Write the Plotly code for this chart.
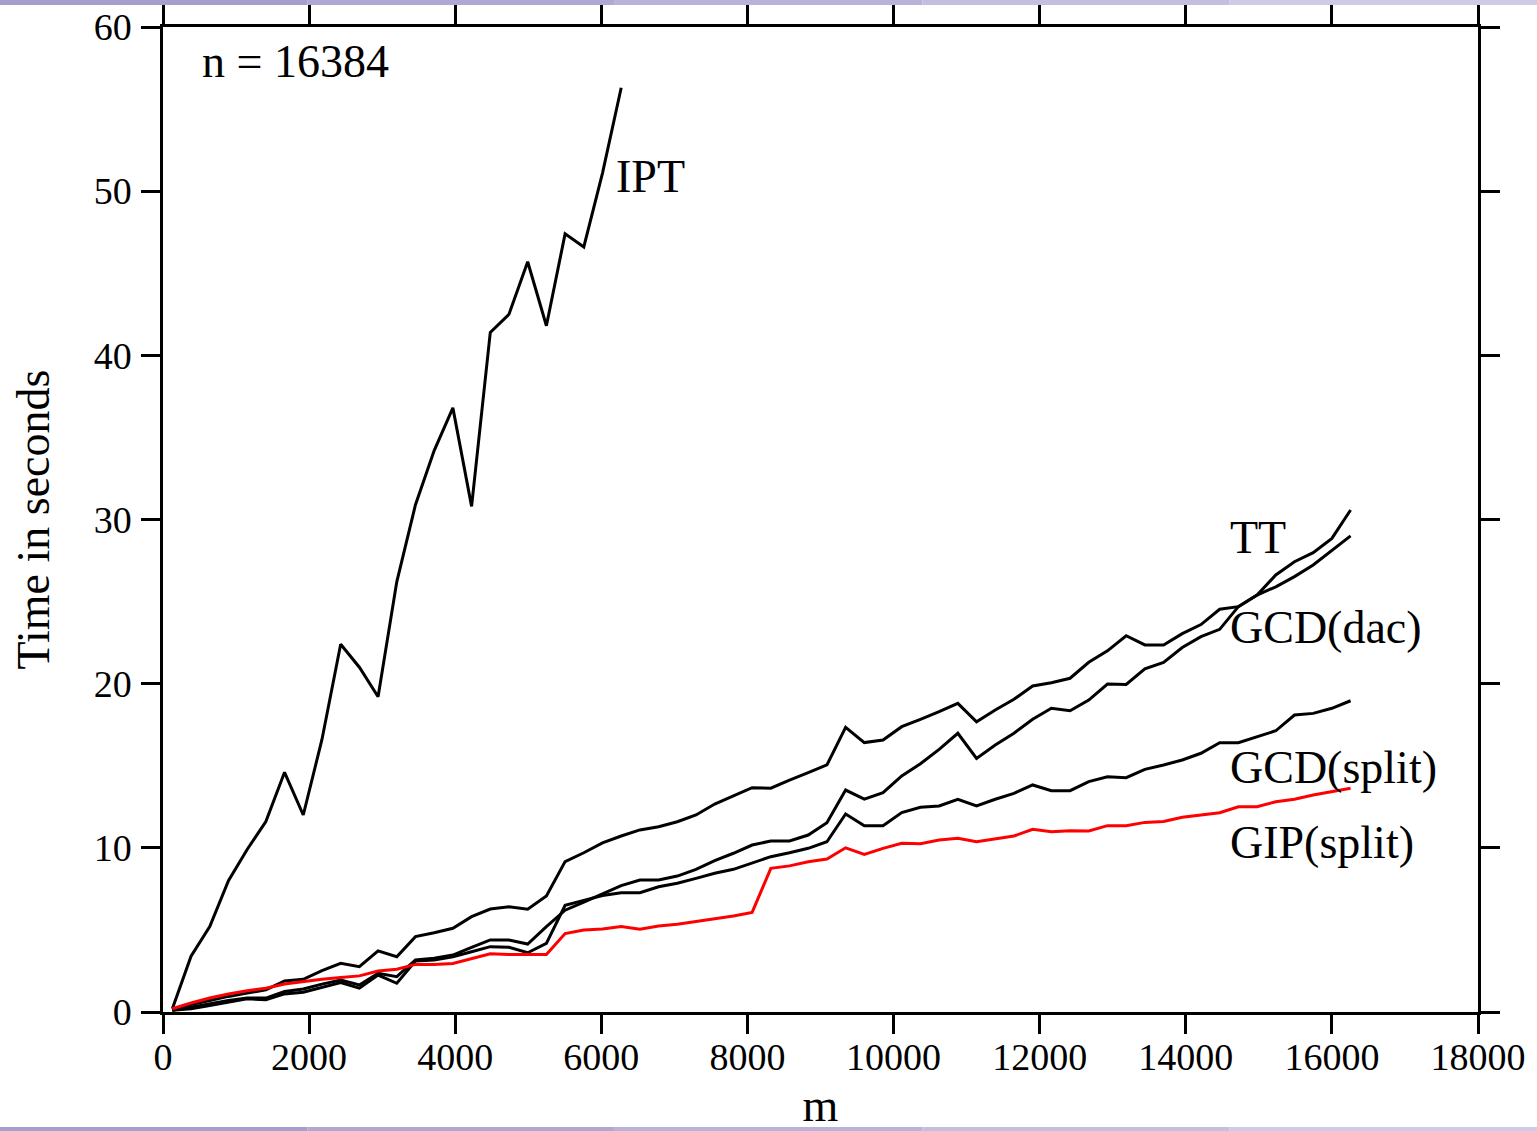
import plotly.graph_objects as go

# ---- data ----
m_all = [128 + 256 * k for k in range(64)]
m_ipt = m_all[:25]

ipt = [0.2, 3.4, 5.2, 8.0, 9.9, 11.6, 14.6, 12.0, 16.6, 22.4, 21.0, 19.2, 26.2,
       30.9, 34.2, 36.8, 30.8, 41.4, 42.5, 45.7, 41.8, 47.4, 46.6, 51.1, 56.3]

tt = [0.1, 0.45, 0.7, 0.95, 1.15, 1.35, 1.89, 1.99, 2.52, 2.97, 2.76, 3.72, 3.37,
      4.59, 4.83, 5.10, 5.81, 6.27, 6.41, 6.26, 7.07, 9.16, 9.7, 10.3, 10.72,
      11.09, 11.29, 11.59, 12.0, 12.67, 13.16, 13.66, 13.63, 14.13, 14.58, 15.05,
      17.34, 16.41, 16.57, 17.38, 17.83, 18.29, 18.8, 17.68, 18.4, 19.05, 19.86,
      20.06, 20.33, 21.3, 22.0, 22.92, 22.36, 22.36, 23.05, 23.6, 24.53, 24.69,
      25.4, 26.62, 27.43, 27.98, 28.85, 30.58]

gcd_dac = [0.1, 0.3, 0.5, 0.7, 0.85, 0.85, 1.25, 1.4, 1.7, 1.95, 1.65, 2.36, 2.15,
           3.17, 3.27, 3.47, 3.94, 4.39, 4.39, 4.14, 5.2, 6.2, 6.7, 7.2, 7.7,
           8.04, 8.04, 8.28, 8.69, 9.22, 9.67, 10.17, 10.42, 10.42, 10.78, 11.53,
           13.52, 12.97, 13.36, 14.38, 15.12, 16.0, 16.98, 15.45, 16.26, 16.98,
           17.83, 18.5, 18.35, 19.0, 19.98, 19.95, 20.9, 21.3, 22.2, 22.86, 23.31,
           24.69, 25.4, 25.9, 26.52, 27.23, 28.14, 29.0]

gcd_split = [0.1, 0.2, 0.4, 0.6, 0.8, 0.75, 1.1, 1.2, 1.5, 1.8, 1.45, 2.25, 1.75,
             3.1, 3.17, 3.37, 3.67, 3.98, 3.94, 3.61, 4.18, 6.5, 6.8, 7.1, 7.27,
             7.27, 7.63, 7.84, 8.14, 8.45, 8.69, 9.06, 9.46, 9.7, 9.97, 10.37,
             12.06, 11.35, 11.35, 12.15, 12.47, 12.55, 12.96, 12.55, 12.96, 13.32,
             13.83, 13.48, 13.48, 14.03, 14.33, 14.27, 14.78, 15.05, 15.35, 15.76,
             16.4, 16.4, 16.77, 17.13, 18.09, 18.19, 18.5, 18.96]

gip_split = [0.2, 0.55, 0.85, 1.1, 1.3, 1.45, 1.7, 1.85, 2.0, 2.1, 2.2, 2.5, 2.6,
             2.9, 2.9, 2.95, 3.25, 3.55, 3.5, 3.5, 3.5, 4.78, 5.0, 5.05, 5.2,
             5.04, 5.24, 5.34, 5.5, 5.68, 5.85, 6.07, 8.75, 8.9, 9.15, 9.32, 10.0,
             9.6, 9.97, 10.28, 10.25, 10.48, 10.58, 10.37, 10.54, 10.72, 11.13,
             10.98, 11.04, 11.03, 11.35, 11.35, 11.55, 11.6, 11.86, 12.0, 12.14,
             12.5, 12.5, 12.81, 12.96, 13.22, 13.42, 13.63]

x_ticks = [0, 2000, 4000, 6000, 8000, 10000, 12000, 14000, 16000, 18000]
y_ticks = [0, 10, 20, 30, 40, 50, 60]

FONT = "Liberation Serif, Times New Roman, serif"

fig = go.Figure()
for name, xs, ys, col in [
    ("IPT", m_ipt, ipt, "black"),
    ("TT", m_all, tt, "black"),
    ("GCD(dac)", m_all, gcd_dac, "black"),
    ("GCD(split)", m_all, gcd_split, "black"),
    ("GIP(split)", m_all, gip_split, "#ff0000"),
]:
    fig.add_trace(go.Scatter(x=xs, y=ys, mode="lines", name=name,
                             line=dict(color=col, width=3)))

labels = [
    ("n = 16384", 506, 57.9),
    ("IPT", 6180, 50.9),
    ("TT", 14580, 28.9),
    ("GCD(dac)", 14580, 23.4),
    ("GCD(split)", 14580, 14.9),
    ("GIP(split)", 14580, 10.3),
]
for txt, ax, ay in labels:
    fig.add_annotation(x=ax, y=ay, text=txt, showarrow=False, xanchor="left",
                       yanchor="middle", font=dict(family=FONT, size=46, color="black"))

axis_common = dict(showline=True, linecolor="black", linewidth=2.5, mirror="ticks",
                   ticks="outside", ticklen=19, tickwidth=2.5, tickcolor="black",
                   showgrid=False, zeroline=False, automargin=False,
                   tickfont=dict(family=FONT, size=38, color="black"))

fig.update_xaxes(range=[0, 18000], tickvals=x_ticks, ticktext=[str(v) for v in x_ticks],
                 ticklabelstandoff=-9,
                 title=dict(text="m", font=dict(family=FONT, size=46, color="black"), standoff=18),
                 **axis_common)
fig.update_yaxes(range=[0, 60], tickvals=y_ticks, ticktext=[str(v) for v in y_ticks],
                 ticklabelstandoff=2,
                 title=dict(text="Time in seconds", font=dict(family=FONT, size=46, color="black"), standoff=30),
                 **axis_common)

# decorative slide bars (lavender, lighter toward the right)
bar_cols = ["#a59fcd", "#aea8d2", "#b8b3d8", "#c3bfdf", "#cecbe6"]
for y0, y1 in [(1.0223, 1.0274), (-0.1208, -0.1168)]:
    n = len(bar_cols)
    for i, c in enumerate(bar_cols):
        xa = -0.124 + (1.169 * i / n)
        xb = -0.124 + (1.169 * (i + 1) / n)
        fig.add_shape(type="rect", xref="paper", yref="paper", x0=xa, x1=xb, y0=y0, y1=y1,
                      fillcolor=c, line_width=0, layer="below")

fig.update_layout(width=1537, height=1131, margin=dict(l=163, r=59, t=27, b=119, autoexpand=False),
                  plot_bgcolor="white", paper_bgcolor="white", showlegend=False,
                  font=dict(family=FONT, color="black"))

fig.write_html("out.html")
